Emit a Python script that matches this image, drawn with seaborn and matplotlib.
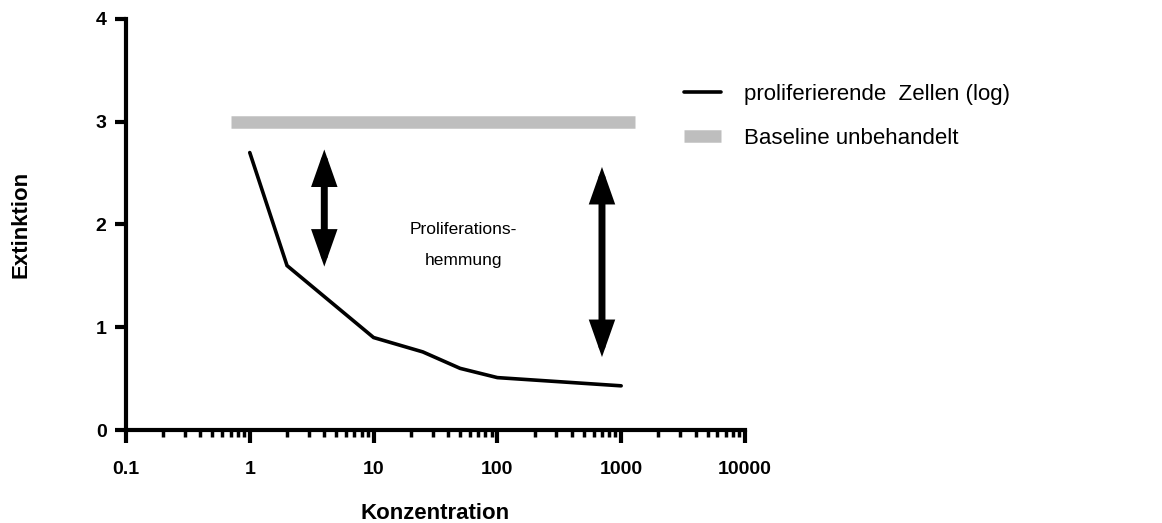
import numpy as np
import pandas as pd
import seaborn as sns
import matplotlib
matplotlib.use("Agg")
import matplotlib.pyplot as plt
from matplotlib.ticker import LogLocator, FixedLocator, NullFormatter

# ---- data ----
conc = [1, 2, 10, 25, 50, 100, 1000]
extinktion = [2.70, 1.60, 0.90, 0.76, 0.60, 0.51, 0.43]
baseline_x = [0.7, 1300]
baseline_y = [3.0, 3.0]
x_ticks = [0.1, 1, 10, 100, 1000, 10000]
x_tick_labels = ["0.1", "1", "10", "100", "1000", "10000"]
y_ticks = [0, 1, 2, 3, 4]
arrow_left = (4, 2.73, 1.59)     # x, y_top, y_bottom
arrow_right = (700, 2.56, 0.71)
label_curve = "proliferierende  Zellen (log)"
label_base = "Baseline unbehandelt"
annot_text = "Proliferations-\nhemmung"

sns.set_theme(style="ticks")
plt.rcParams["font.family"] = ["Liberation Sans", "DejaVu Sans"]
plt.rcParams["text.color"] = "black"
plt.rcParams["axes.labelcolor"] = "black"
plt.rcParams["xtick.color"] = "black"
plt.rcParams["ytick.color"] = "black"

fig = plt.figure(figsize=(11.62, 5.23), dpi=100)
ax = fig.add_axes([0.1084, 0.1778, 0.6411 - 0.1084, 0.9637 - 0.1778])

df_curve = pd.DataFrame({"x": conc, "y": extinktion})
df_base = pd.DataFrame({"x": baseline_x, "y": baseline_y})

sns.lineplot(data=df_curve, x="x", y="y", ax=ax, color="black", lw=2.6,
             label=label_curve, solid_joinstyle="miter")
sns.lineplot(data=df_base, x="x", y="y", ax=ax, color="#bebebe", lw=9,
             label=label_base, solid_capstyle="butt")

ax.set_xscale("log")
ax.set_xlim(0.1, 10000)
ax.set_ylim(0, 4)

ax.xaxis.set_major_locator(FixedLocator(x_ticks))
ax.set_xticklabels(x_tick_labels)
ax.xaxis.set_minor_locator(LogLocator(base=10, subs=np.arange(2, 10)))
ax.xaxis.set_minor_formatter(NullFormatter())
ax.set_yticks(y_ticks)
ax.set_yticklabels([str(v) for v in y_ticks])

for s in ["top", "right"]:
    ax.spines[s].set_visible(False)
for s in ["left", "bottom"]:
    ax.spines[s].set_linewidth(3)
    ax.spines[s].set_color("black")

ax.tick_params(axis="x", which="major", length=9, width=3, direction="out",
               labelsize=14, pad=13, color="black", labelcolor="black")
ax.tick_params(axis="x", which="minor", length=5, width=2.5, direction="out",
               color="black")
ax.tick_params(axis="y", which="major", length=8, width=3, direction="out",
               labelsize=14, pad=6, color="black", labelcolor="black")
for lab in ax.get_xticklabels() + ax.get_yticklabels():
    lab.set_fontweight("bold")

ax.set_xlabel("Konzentration", fontsize=16, fontweight="bold", labelpad=18,
              color="black")
ax.set_ylabel("Extinktion", fontsize=16, fontweight="bold", labelpad=46,
              color="black")

# double arrows
for (xa, yt, yb) in [arrow_left, arrow_right]:
    ax.annotate("", xy=(xa, yt), xytext=(xa, yb),
                arrowprops=dict(arrowstyle="<|-|>,head_length=0.85,head_width=0.3",
                                mutation_scale=20, lw=5, color="black",
                                shrinkA=0, shrinkB=0, joinstyle="miter"))

ax.text(np.sqrt(4 * 700), 1.80, annot_text, ha="center", va="center",
        fontsize=12.5, linespacing=2.4, color="black")

leg = ax.legend(loc="upper left", bbox_to_anchor=(0.571, 0.878),
                bbox_transform=fig.transFigure, frameon=False, fontsize=16,
                handlelength=1.7, handletextpad=1.0, labelspacing=1.05)
for t in leg.get_texts():
    t.set_color("black")

fig.savefig("out.png", dpi=100)
